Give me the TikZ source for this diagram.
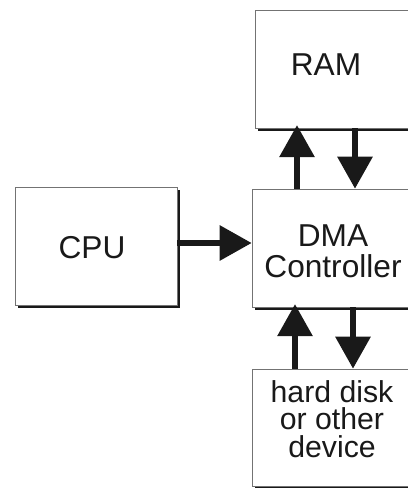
\documentclass[tikz,border=0pt]{standalone}
\usepackage{fontspec}
\setmainfont{Liberation Sans}
\usetikzlibrary{arrows.meta,shadows}

\tikzset{
	unit/.style={draw=black!55, line width=0.4pt, fill=white, inner sep=0pt,
		drop shadow={shadow xshift=0.08cm, shadow yshift=-0.08cm, fill=black!90, opacity=1}},
	unittext/.style={inner sep=0pt, align=center, text=black!90,
		font=\fontsize{22.5}{22}\selectfont},
	bus/.style={line width=0.15cm, color=black!90, -{Triangle[length=0.8cm,width=0.85cm]}},
	busin/.style={bus, shorten >=-0.08cm}
}

\begin{document}
\begin{tikzpicture}[x=0.025cm, y=-0.025cm]
			%%%%% START %%%%%
			
			\useasboundingbox (0,0) rectangle (408,488);
			\clip (0,0) rectangle (408,488);
			
			\node[unit, minimum width=3.925cm, minimum height=2.95cm] (ram) at (333.5,69) {};
			\node[unit, minimum width=4.05cm, minimum height=2.95cm] (cpu) at (96,246) {};
			\node[unit, minimum width=4cm, minimum height=2.95cm] (dma) at (332,248) {};
			\node[unit, minimum width=4cm, minimum height=2.925cm] (disk) at (332,427.5) {};
			
			\node[unittext] (ramtxt) at (326,65) {RAM};
			\node[unittext] (cputxt) at (92,248) {CPU};
			\node[unittext, font=\fontsize{22.5}{22}\selectfont] (dmatxt) at (333,251.5) {DMA\\Controller};
			\node[unittext, font=\fontsize{21.5}{19.5}\selectfont] (disktxt) at (332,419) {hard disk\\or other\\device};
			
			\draw[bus] (cpu.east |- 0,243) -- (dma.west |- 0,243);
			
			\draw[busin] (dma.north -| 297,0) -- (ram.south -| 297,0);
			\draw[bus] (ram.south -| 355,0) -- (dma.north -| 355,0);
			
			\draw[busin] (disk.north -| 295,0) -- (dma.south -| 295,0);
			\draw[bus] (dma.south -| 353,0) -- (disk.north -| 353,0);
			
			%%%%% END %%%%%
\end{tikzpicture}
\end{document}
